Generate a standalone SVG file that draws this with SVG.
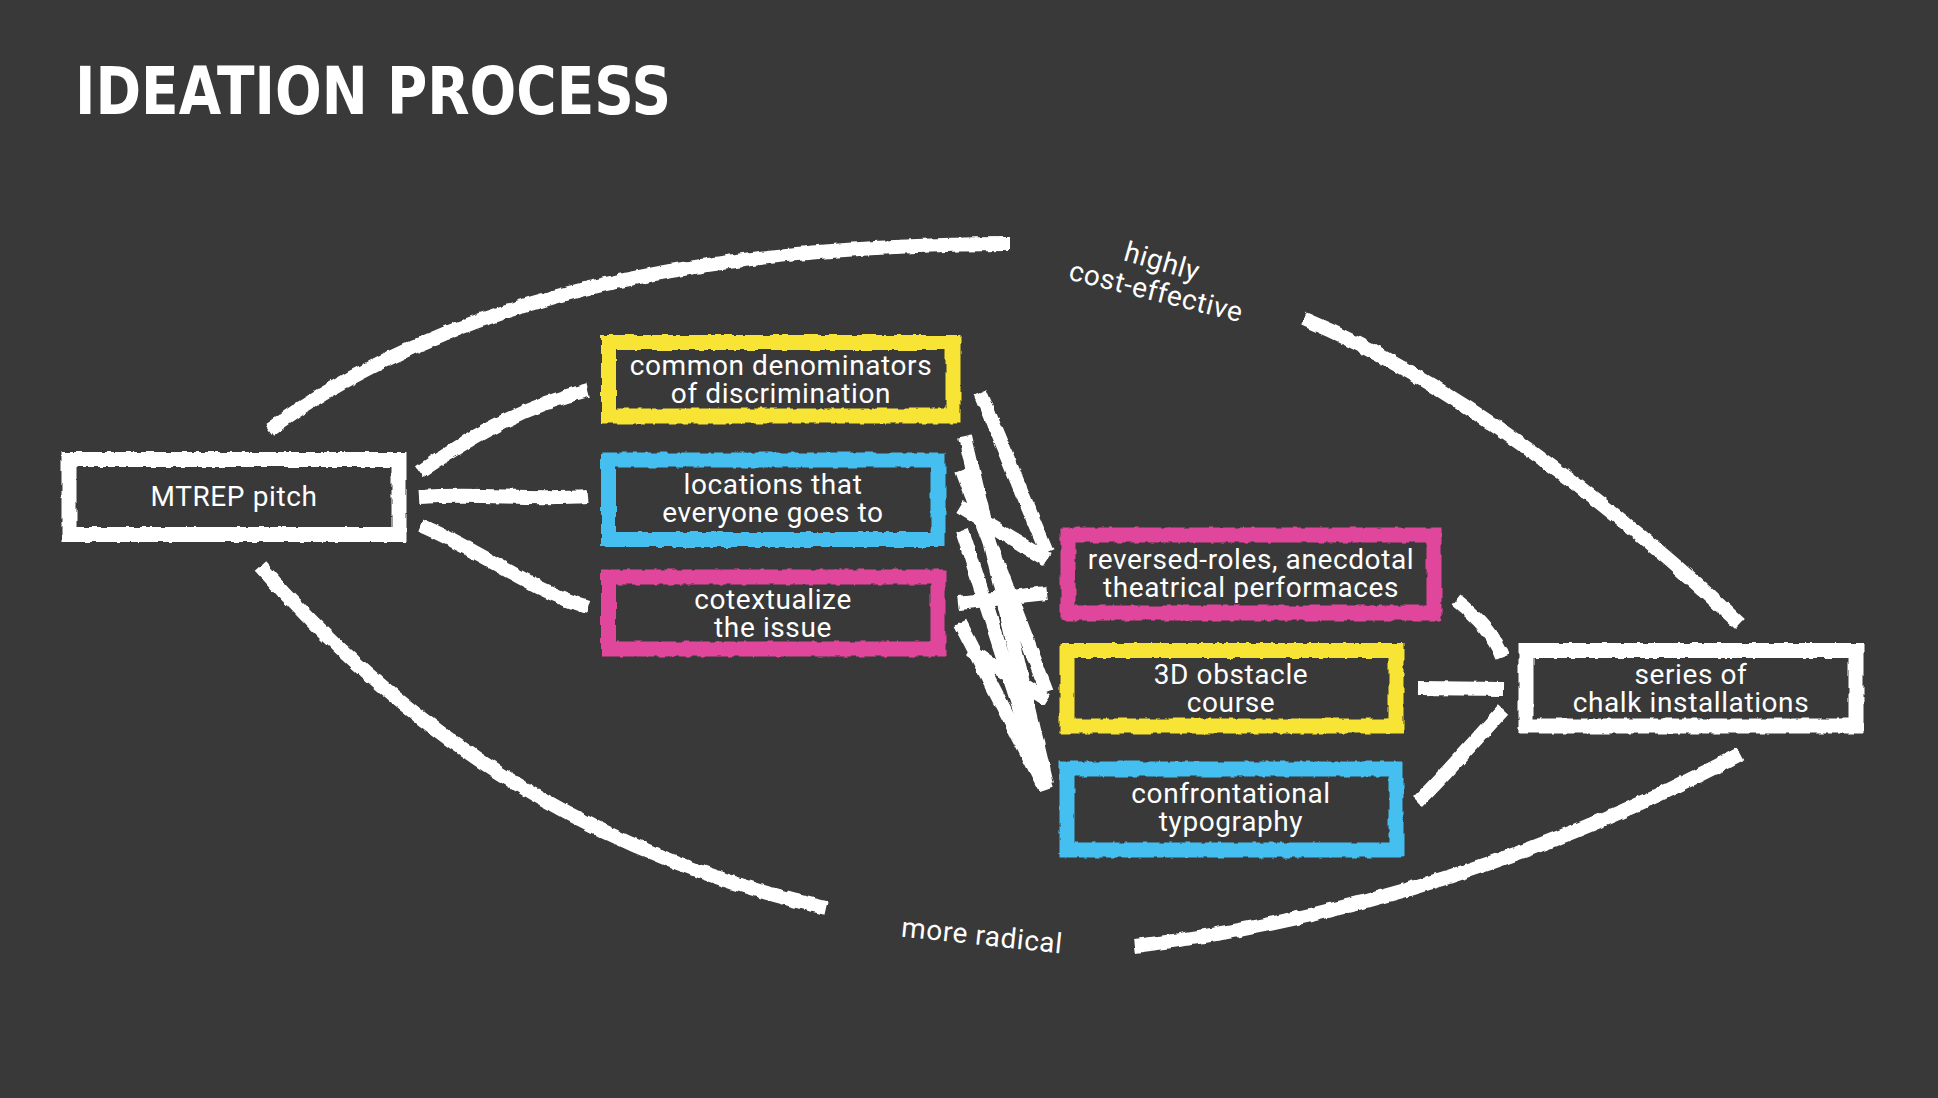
<svg xmlns="http://www.w3.org/2000/svg" width="1938" height="1098" viewBox="0 0 1938 1098">
<defs>
<filter id="rough" filterUnits="userSpaceOnUse" x="0" y="0" width="1938" height="1098">
<feTurbulence type="fractalNoise" baseFrequency="0.12 0.07" numOctaves="2" seed="4" result="n"/>
<feDisplacementMap in="SourceGraphic" in2="n" scale="4.5" xChannelSelector="R" yChannelSelector="G"/>
</filter>
<style>
.bg{fill:#393939}
.box{fill:none;stroke-width:15}
.w{stroke:#ffffff}.y{stroke:#f7e434}.b{stroke:#45bff0}.p{stroke:#e0479c}
.t{font-family:Roboto,"Liberation Sans",sans-serif;font-size:28px;letter-spacing:0.6px;fill:#ffffff;text-anchor:middle}
.ln{fill:none;stroke:#ffffff;stroke-width:14;stroke-linecap:butt}
.title{font-family:"DejaVu Sans","Liberation Sans",sans-serif;font-weight:bold;font-size:66px;fill:#ffffff}
</style>
</defs>
<rect class="bg" x="0" y="0" width="1938" height="1098"/>
<text class="title" x="75" y="114" textLength="596" lengthAdjust="spacingAndGlyphs">IDEATION PROCESS</text>

<g id="connectors" filter="url(#rough)">
<path class="ln" d="M269,430 C420,320 640,245 1009,244"/>
<path class="ln" d="M1304,319 C1450,380 1620,510 1740,624"/>
<path class="ln" d="M260,566 C370,690 545,845 826,908"/>
<path class="ln" d="M1135,946 C1350,920 1560,850 1740,754"/>
<path class="ln" d="M420,472 C480,430 530,405 588,390"/>
<path class="ln" d="M420,497 C480,493 530,500 588,496"/>
<path class="ln" d="M420,525 C480,550 530,590 588,607"/>
<path class="ln" d="M980,392 L1047,553"/>
<path class="ln" d="M965,437 L1047,785"/>
<path class="ln" d="M960,507 L1047,560"/>
<path class="ln" d="M962,470 L1047,692"/>
<path class="ln" d="M962,530 L1046,790"/>
<path class="ln" d="M958,603 L1047,593"/>
<path class="ln" d="M960,623 L1044,787"/>
<path class="ln" d="M970,650 L1047,700"/>
<path class="ln" d="M1456,600 C1475,615 1495,635 1503,657"/>
<path class="ln" d="M1418,688 L1503,689"/>
<path class="ln" d="M1418,802 C1450,770 1480,735 1503,710"/>
</g>

<g id="labels">
<text class="t" transform="rotate(16 1162 262)" x="1162" y="271">highly</text>
<text class="t" transform="rotate(14 1156 292)" x="1156" y="301">cost-effective</text>
<text class="t" transform="rotate(6 982 936)" x="982" y="945">more radical</text>
</g>

<g id="node-mtrep">
<rect class="box w" x="69" y="459.5" width="330" height="75" filter="url(#rough)"/>
<text class="t" x="234" y="506">MTREP pitch</text>
</g>
<g id="node-common">
<rect class="box y" x="608.5" y="342.5" width="344.5" height="73.5" filter="url(#rough)"/>
<text class="t"><tspan x="781" y="375">common denominators</tspan><tspan x="781" y="403">of discrimination</tspan></text>
</g>
<g id="node-locations">
<rect class="box b" x="608.5" y="460" width="329.5" height="79.5" filter="url(#rough)"/>
<text class="t"><tspan x="773" y="494">locations that</tspan><tspan x="773" y="522">everyone goes to</tspan></text>
</g>
<g id="node-cotextualize">
<rect class="box p" x="608.5" y="577" width="329.5" height="72" filter="url(#rough)"/>
<text class="t"><tspan x="773" y="609">cotextualize</tspan><tspan x="773" y="637">the issue</tspan></text>
</g>
<g id="node-reversed">
<rect class="box p" x="1068" y="535" width="366" height="78" filter="url(#rough)"/>
<text class="t"><tspan x="1251" y="569">reversed-roles, anecdotal</tspan><tspan x="1251" y="597">theatrical performaces</tspan></text>
</g>
<g id="node-3d">
<rect class="box y" x="1067" y="650.5" width="329" height="75.5" filter="url(#rough)"/>
<text class="t"><tspan x="1231" y="684">3D obstacle</tspan><tspan x="1231" y="712">course</tspan></text>
</g>
<g id="node-confrontational">
<rect class="box b" x="1067" y="769" width="329" height="81" filter="url(#rough)"/>
<text class="t"><tspan x="1231" y="803">confrontational</tspan><tspan x="1231" y="831">typography</tspan></text>
</g>
<g id="node-series">
<rect class="box w" x="1526" y="650.5" width="330" height="75.5" filter="url(#rough)"/>
<text class="t"><tspan x="1691" y="684">series of</tspan><tspan x="1691" y="712">chalk installations</tspan></text>
</g>
</svg>
